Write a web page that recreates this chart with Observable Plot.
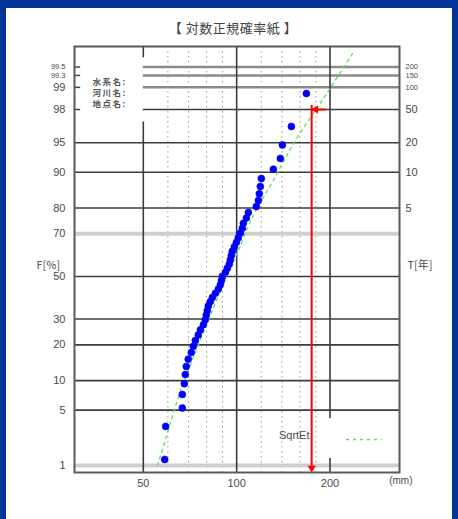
<!DOCTYPE html>
<html><head><meta charset="utf-8">
<script src="https://cdn.jsdelivr.net/npm/d3@7"></script>
<script src="https://cdn.jsdelivr.net/npm/@observablehq/plot@0.6"></script>
<style>
body{margin:0;background:#033497;width:458px;height:519px;overflow:hidden;position:relative;font-family:"Liberation Sans",Arial,sans-serif}
#panel{position:absolute;left:6px;top:8px;width:446px;height:511px;background:#fff}
#title{position:absolute;left:0;top:18px;width:466px;text-align:center;font:13px "Noto Sans CJK JP";color:#444;letter-spacing:0.5px}
#chart{position:absolute;left:0;top:0}
.boxlabel{letter-spacing:1.5px}
</style></head>
<body>
<div id="panel"></div>
<div id="title">【 対数正規確率紙 】</div>
<div id="chart"></div>
<script>
// ---- data ----
const rainfall = [58.6, 59.0, 66.8, 66.8, 67.8, 68.3, 68.8, 69.8, 71.4, 72.5, 73.6, 75.2, 76.4, 78.1, 79.2, 79.8, 80.4, 81.0, 82.2, 83.5, 85.4, 87.3, 88.6, 89.3, 89.9, 92.0, 93.3, 94.7, 95.4, 96.1, 96.8, 98.3, 99.8, 101.2, 102.8, 104.3, 105.1, 107.5, 109.1, 115.7, 117.5, 118.3, 119.2, 120.1, 131.3, 138.3, 140.4, 150.1, 167.8];
const plotPosF = [1.22, 3.25, 5.28, 7.32, 9.35, 11.38, 13.41, 15.45, 17.48, 19.51, 21.54, 23.58, 25.61, 27.64, 29.67, 31.71, 33.74, 35.77, 37.80, 39.84, 41.87, 43.90, 45.93, 47.97, 50.00, 52.03, 54.07, 56.10, 58.13, 60.16, 62.20, 64.23, 66.26, 68.29, 70.33, 72.36, 74.39, 76.42, 78.46, 80.49, 82.52, 84.55, 86.59, 88.62, 90.65, 92.68, 94.72, 96.75, 98.78];
const fitValue = [55.5, 59.3, 62.9, 66.3, 71.9, 78.6, 86.0, 92.7, 101.2, 112.4, 132.3, 154.7, 189.0, 238.0];
const fitF = [1.0, 2.4, 5.0, 8.4, 15.1, 25.3, 38.4, 50, 62.5, 76.6, 88.6, 95.3, 98.5, 99.71];
const leftTickF = [99.5, 99.33, 99, 98, 95, 90, 80, 70, 50, 30, 20, 10, 5, 1];
const leftTickLabels = ["99.5", "99.3", "99", "98", "95", "90", "80", "70", "50", "30", "20", "10", "5", "1"];
const returnPeriods = [200, 150, 100, 50, 20, 10, 5];
const majorF = [98, 95, 90, 80, 50, 30, 20, 10, 5];
const grayF = [99.5, 99.33, 99];
const paleF = [70, 1];
const xTicks = [50, 100, 200];
const xMinor = [60, 70, 80, 90, 120, 140, 160, 180];
const designT = 50, designValue = 174.5, arrowStart = 195;
const xDomain = [30, 335];
const zDomain = [-2.412, 2.829];
const labelBoxZ = [1.9, 2.69];   // gap for the 水系名 box
const legendGapZ = [-2.24, -1.75];
const boxLabels = ["水系名:", "河川名:", "地点名:"];
const boxRowsDy = [32, 43, 54];

// inverse normal CDF (Acklam)
function probit(p) {
  const a=[-3.969683028665376e+01,2.209460984245205e+02,-2.759285104469687e+02,1.383577518672690e+02,-3.066479806614716e+01,2.506628277459239e+00];
  const b=[-5.447609879822406e+01,1.615858368580409e+02,-1.556989798598866e+02,6.680131188771972e+01,-1.328068155288572e+01];
  const c=[-7.784894002430293e-03,-3.223964580411365e-01,-2.400758277161838e+00,-2.549732539343734e+00,4.374664141464968e+00,2.938163982698783e+00];
  const d=[7.784695709041462e-03,3.224671290700398e-01,2.445134137142996e+00,3.754408661907416e+00];
  const pl=0.02425, ph=1-pl;
  if (p<pl){const q=Math.sqrt(-2*Math.log(p));return (((((c[0]*q+c[1])*q+c[2])*q+c[3])*q+c[4])*q+c[5])/((((d[0]*q+d[1])*q+d[2])*q+d[3])*q+1);}
  if (p<=ph){const q=p-0.5,r=q*q;return (((((a[0]*r+a[1])*r+a[2])*r+a[3])*r+a[4])*r+a[5])*q/(((((b[0]*r+b[1])*r+b[2])*r+b[3])*r+b[4])*r+1);}
  const q=Math.sqrt(-2*Math.log(1-p));return -(((((c[0]*q+c[1])*q+c[2])*q+c[3])*q+c[4])*q+c[5])/((((d[0]*q+d[1])*q+d[2])*q+d[3])*q+1);
}
const zOf = F => probit(F / 100);

const points = rainfall.map((v, i) => ({v, z: zOf(plotPosF[i])}));
const fit = fitValue.map((v, i) => ({v, z: zOf(fitF[i])}));
const hMajor = majorF.map(F => ({z: zOf(F), x1: zOf(F) > labelBoxZ[0] ? 50 : xDomain[0]}));
const hGray = grayF.map(F => ({z: zOf(F)}));
const leftTicks = leftTickF.map((F, i) => ({z: zOf(F), label: leftTickLabels[i], small: F > 99}));
const rightTicks = returnPeriods.map(T => ({z: zOf(100 * (1 - 1 / T)), label: String(T), small: T > 50}));
const designZ = zOf(100 * (1 - 1 / designT));

const font = "Liberation Sans, Arial, sans-serif";
const txt = "#4a4a4a";

const chart = Plot.plot({
  width: 458, height: 519,
  marginLeft: 74, marginRight: 59, marginTop: 46, marginBottom: 47,
  style: {background: "none", overflow: "visible"},
  x: {type: "log", domain: xDomain, axis: null},
  y: {type: "linear", domain: zDomain, axis: null},
  marks: [
    // minor dotted verticals
    Plot.ruleX(xMinor, {stroke: "#9a9a9a", strokeDasharray: "1.5,3.5", strokeWidth: 1}),
    // pale horizontal bands
    Plot.ruleY(paleF.map(zOf), {stroke: "#cfcfcf", strokeWidth: 4}),
    // gray horizontal bands (T = 200,150,100)
    Plot.ruleY(hGray, {y: "z", x1: 50, x2: xDomain[1], stroke: "#8a8a8a", strokeWidth: 2.5}),
    // major horizontals
    Plot.ruleY(hMajor, {y: "z", x1: "x1", x2: xDomain[1], stroke: "#3c3c3c", strokeWidth: 1.6}),
    // small ticks on left frame beside label box
    Plot.ruleY([...hGray, {z: zOf(98)}], {y: "z", x1: xDomain[0], x2: 31.4, stroke: "#444", strokeWidth: 1.5}),
    // major verticals (with gaps for the label box and the legend)
    Plot.ruleX([
      {x: 50, y1: zDomain[0], y2: labelBoxZ[0]}, {x: 50, y1: labelBoxZ[1], y2: zDomain[1]},
      {x: 100, y1: zDomain[0], y2: zDomain[1]},
      {x: 200, y1: zDomain[0], y2: legendGapZ[0]}, {x: 200, y1: legendGapZ[1], y2: zDomain[1]}
    ], {x: "x", y1: "y1", y2: "y2", stroke: "#3c3c3c", strokeWidth: 1.6}),
    Plot.frame({stroke: "#5a5a5a", strokeWidth: 2}),
    // fitted curve
    Plot.line(fit, {x: "v", y: "z", stroke: "#5ee05e", strokeWidth: 1.3, strokeDasharray: "3,4", curve: "catmull-rom"}),
    // data
    Plot.dot(points, {x: "v", y: "z", r: 3.5, fill: "#0000ff", stroke: "#0000ff", strokeWidth: 0.5}),
    // design value arrows
    Plot.ruleY([designZ], {x1: designValue, x2: arrowStart, stroke: "#ff0000", strokeWidth: 2}),
    Plot.dot([designZ], {x: designValue, y: d => d, dx: 4, symbol: "triangle", rotate: -90, r: 3, fill: "#ff0000", stroke: "none"}),
    Plot.ruleX([designValue], {y1: designZ, y2: zDomain[0], dy: -4, stroke: "#ff0000", strokeWidth: 2}),
    Plot.dot([designValue], {x: d => d, y: zDomain[0], dy: -4.5, symbol: "triangle", rotate: 180, r: 3, fill: "#ff0000", stroke: "none"}),
    // left tick labels
    Plot.text(leftTicks.filter(d => !d.small), {x: xDomain[0], y: "z", text: "label", dx: -9, textAnchor: "end", fontSize: 11, fill: txt, fontFamily: font}),
    Plot.text(leftTicks.filter(d => d.small), {x: xDomain[0], y: "z", text: "label", dx: -9, textAnchor: "end", fontSize: 7.5, fill: txt, fontFamily: font}),
    // right tick labels
    Plot.text(rightTicks.filter(d => !d.small), {x: xDomain[1], y: "z", text: "label", dx: 6, textAnchor: "start", fontSize: 11, fill: txt, fontFamily: font}),
    Plot.text(rightTicks.filter(d => d.small), {x: xDomain[1], y: "z", text: "label", dx: 6, textAnchor: "start", fontSize: 7.5, fill: txt, fontFamily: font}),
    // x tick labels
    Plot.text(xTicks, {x: d => d, y: zDomain[0], text: d => String(d), dy: 11, fontSize: 11, fill: txt, fontFamily: font}),
    Plot.text(["(mm)"], {frameAnchor: "bottom-right", dx: 13, dy: 11, fontSize: 10, fill: txt, fontFamily: font}),
    // axis titles
    Plot.text(["F[%]"], {frameAnchor: "left", dx: -38, dy: 6, fontSize: 11, fill: txt, fontFamily: "Noto Sans CJK JP"}),
    Plot.text(["T[年]"], {frameAnchor: "right", dx: 33, dy: 6, fontSize: 11, fill: txt, fontFamily: "Noto Sans CJK JP"}),
    // label box rows
    ...boxLabels.map((s, i) => Plot.text([s], {frameAnchor: "top-left", dx: 18, dy: boxRowsDy[i], textAnchor: "start", fontSize: 8.5, fontWeight: "bold", fill: "#555", fontFamily: "Noto Sans CJK JP", className: "boxlabel"})),
    // legend
    Plot.text(["SqrtEt"], {frameAnchor: "bottom-right", dx: -90, dy: -34, fontSize: 11, fill: txt, fontFamily: font}),
    Plot.ruleY([-2.006], {x1: 226, x2: 295, stroke: "#5ee05e", strokeWidth: 1.3, strokeDasharray: "3,4"})
  ]
});
document.getElementById("chart").appendChild(chart);
</script>
</body></html>
